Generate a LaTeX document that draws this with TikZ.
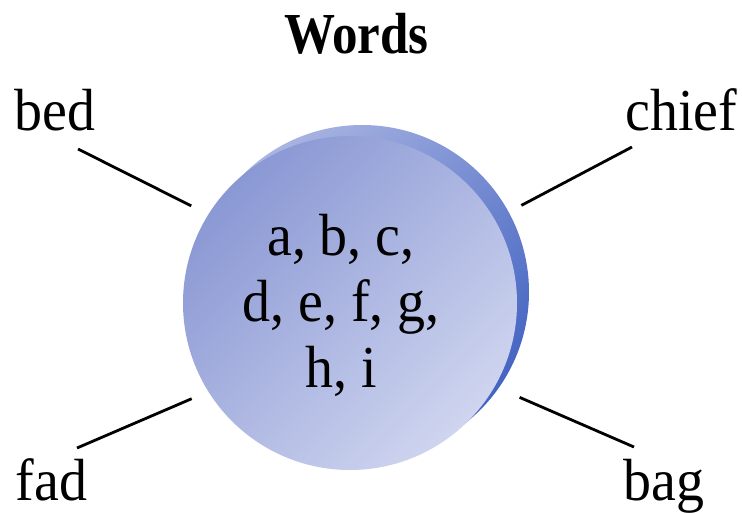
\documentclass[tikz,border=0pt]{standalone}
\usepackage{fontspec}
\setmainfont[FakeStretch=0.94]{Liberation Serif}
\newfontfamily\titlefont[FakeStretch=0.88]{Liberation Serif}
\definecolor{FaceDark}{HTML}{8A98D4}
\definecolor{FaceLight}{HTML}{CFD5EF}
\definecolor{RimLight}{HTML}{AAB5E2}
\definecolor{RimDark}{HTML}{4464C2}

\begin{document}
\begin{tikzpicture}[x=1pt,y=-1pt,
  coin/.style 2 args={circle,inner sep=0pt,minimum size=334pt,
    top color=#1,bottom color=#2,shading angle=45},
  wordlabel/.style={inner sep=0pt,anchor=base,font=\fontsize{59.5}{66}\selectfont},
  heading/.style={inner sep=0pt,anchor=base,font=\titlefont\fontsize{58}{64}\selectfont\bfseries},
  link/.style={line width=2.8pt}]
\useasboundingbox (0,0) rectangle (742,512);
\node[coin={RimLight}{RimDark}] (rim) at (362,292) {};
\node[coin={FaceDark}{FaceLight}] (disc) at (350,303) {};
\node[inner sep=0pt,align=center,font=\fontsize{59.5}{66}\selectfont] (members) at (341,305) {a, b, c,\\d, e, f, g,\\h, i};
\node[heading] (title) at (356.5,53) {Words};
\node[wordlabel] (bed) at (55,130) {bed};
\node[wordlabel] (chief) at (681.5,130) {chief};
\node[wordlabel] (fad) at (51.5,500) {fad};
\node[wordlabel] (bag) at (664,500) {bag};
\foreach \lab/\off/\ang/\cut in {bed/{23,19}/148/19,chief/{-49.5,17}/30/30,fad/{25.5,-52}/212/18,bag/{-30,-53}/-30/27}
  \draw[link,shorten >=\cut pt] (\lab.base) ++(\off) -- (disc.\ang);
\end{tikzpicture}
\end{document}
